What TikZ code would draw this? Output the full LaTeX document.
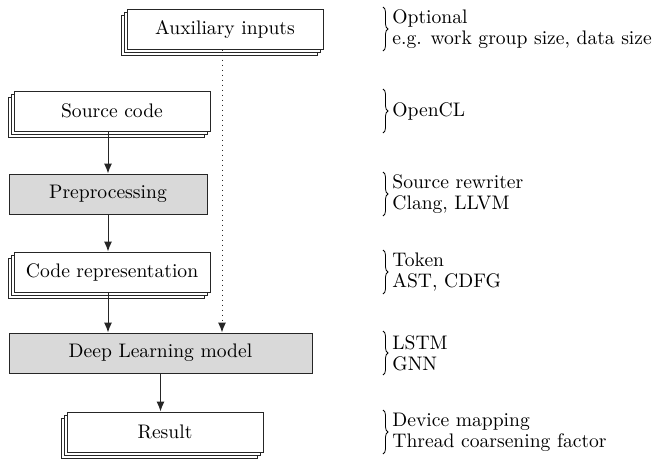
\documentclass[tikz,border=0pt]{standalone}
\usetikzlibrary{positioning,shadows,arrows.meta,decorations.pathreplacing,calc}

\begin{document}
\begin{tikzpicture}[x=0.5pt,y=-0.5pt,
          every node/.style={font=\fontsize{9.8}{10.5}\selectfont},
          stack/.style={draw=black!85,fill=white,line width=0.5pt,minimum width=98pt,minimum height=20pt,inner sep=0pt,
            double copy shadow={shadow xshift=-1.5pt,shadow yshift=-1.5pt,draw=black!85,fill=white,line width=0.5pt}},
          proc/.style={draw=black!85,fill=black!15,line width=0.5pt,minimum height=20pt,inner sep=0pt},
          flow/.style={-{Latex[length=5pt,width=4pt]},black!85,line width=0.5pt},
          brc/.style={decorate,decoration={brace,amplitude=2.5pt},line width=0.4pt},
          note/.style={anchor=west,align=left,inner sep=0pt},
        ]
        \useasboundingbox (0,0) rectangle (655,461);
        % boxes
        \node[stack] (aux) at (225,29) {Auxiliary inputs};
        \node[stack] (src) at (112,111) {Source code};
        \node[proc,minimum width=99pt] (pre) at (108,194) {Preprocessing};
        \node[stack] (code) at (112,272) {Code representation};
        \node[proc,minimum width=151.5pt] (dl) at (160.5,353) {Deep Learning model};
        \node[stack] (res) at (165,432) {Result};
        % connectors
        \coordinate (auxb) at ([xshift=-1.5pt]aux.south);
        \draw[flow] (src.south -| pre.south) -- (pre.north);
        \draw[flow] (pre.south) -- (code.north -| pre.south);
        \draw[flow] (code.south -| pre.south) -- (dl.north -| pre.south);
        \draw[flow] (dl.south) -- (res.north -| dl.south);
        \draw[flow,dotted] (auxb) -- (dl.north -| auxb);
        % side notes
        \coordinate (bx) at (383,0);
        \foreach \n/\t in {aux/{Optional\\e.g. work group size, data size},src/{OpenCL},
            pre/{Source rewriter\\Clang, LLVM},code/{Token\\AST, CDFG},dl/{LSTM\\GNN},
            res/{Device mapping\\Thread coarsening factor}} {
          \draw[brc] ($(\n -| bx)+(0,-22)$) -- ($(\n -| bx)+(0,22)$);
          \node[note] (t\n) at ($(\n -| bx)+(9,0)$) {\t};
        }
      \end{tikzpicture}
\end{document}
